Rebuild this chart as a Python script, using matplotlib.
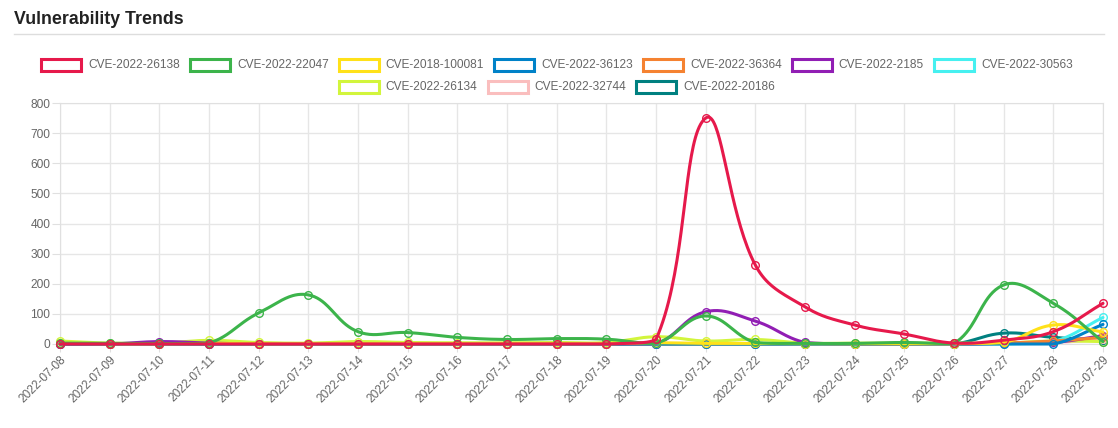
import numpy as np
import matplotlib.pyplot as plt
from matplotlib.patches import Rectangle
from matplotlib.lines import Line2D

plt.rcParams['font.family'] = ['Liberation Sans', 'DejaVu Sans']

dates = ['2022-07-08', '2022-07-09', '2022-07-10', '2022-07-11', '2022-07-12',
         '2022-07-13', '2022-07-14', '2022-07-15', '2022-07-16', '2022-07-17',
         '2022-07-18', '2022-07-19', '2022-07-20', '2022-07-21', '2022-07-22',
         '2022-07-23', '2022-07-24', '2022-07-25', '2022-07-26', '2022-07-27',
         '2022-07-28', '2022-07-29']

cve_26138 = [0, 0, 0, 0, 0, 0, 0, 0, 0, 0, 0, 0, 15, 750, 262, 123, 63, 33, 3, 13, 41, 135]
cve_22047 = [3, 2, 2, 3, 103, 163, 41, 38, 22, 15, 18, 16, 3, 93, 5, 2, 2, 5, 2, 196, 135, 8]
cve_100081 = [2, 1, 1, 2, 1, 1, 1, 1, 1, 1, 1, 1, 4, 2, 2, 1, 1, 1, 1, 5, 63, 40]
cve_36123 = [0, 0, 0, 0, 0, 0, 0, 0, 0, 0, 0, 0, 0, 0, 0, 0, 0, 0, 0, 0, 0, 65]
cve_36364 = [0, 0, 0, 0, 0, 0, 0, 0, 0, 0, 0, 0, 0, 0, 0, 0, 0, 0, 0, 3, 10, 22]
cve_2185 = [0, 0, 8, 3, 0, 0, 0, 0, 0, 0, 0, 0, 0, 107, 76, 5, 0, 0, 0, 2, 5, 28]
cve_30563 = [0, 0, 0, 0, 0, 0, 0, 0, 0, 0, 0, 0, 0, 0, 0, 0, 0, 0, 0, 0, 8, 88]
cve_26134 = [10, 3, 3, 12, 5, 3, 8, 5, 4, 4, 5, 5, 24, 10, 15, 3, 3, 3, 3, 3, 10, 8]
cve_32744 = [0, 0, 0, 0, 0, 0, 0, 0, 0, 0, 0, 0, 0, 0, 0, 0, 0, 0, 0, 2, 5, 15]
cve_20186 = [0, 0, 0, 0, 0, 0, 0, 0, 0, 0, 0, 0, 0, 0, 0, 0, 0, 0, 0, 36, 22, 12]

series = [
    ('CVE-2022-26138', cve_26138, '#e6194b'),
    ('CVE-2022-22047', cve_22047, '#3cb44b'),
    ('CVE-2018-100081', cve_100081, '#ffe119'),
    ('CVE-2022-36123', cve_36123, '#0082c8'),
    ('CVE-2022-36364', cve_36364, '#f58231'),
    ('CVE-2022-2185', cve_2185, '#911eb4'),
    ('CVE-2022-30563', cve_30563, '#46f0f0'),
    ('CVE-2022-26134', cve_26134, '#d2f53c'),
    ('CVE-2022-32744', cve_32744, '#fabebe'),
    ('CVE-2022-20186', cve_20186, '#008080'),
]

W, H = 1118, 428
fig = plt.figure(figsize=(W / 100, H / 100), dpi=100)
ax = fig.add_axes([60 / W, (H - 344) / H, (1103 - 60) / W, (344 - 103) / H])
ax.set_xlim(0, len(dates) - 1)
ax.set_ylim(0, 800)

# chart.js style spline (tension 0.4, control points capped to the chart area)
def spline(xs, ys, t=0.4):
    pts = ax.transData.transform(np.column_stack([xs, ys]))
    x0, y0, x1, y1 = ax.bbox.x0, ax.bbox.y0, ax.bbox.x1, ax.bbox.y1
    n = len(pts)
    cp_in, cp_out = [], []
    for i in range(n):
        prev = pts[i - 1] if i > 0 else pts[i]
        nxt = pts[i + 1] if i < n - 1 else pts[i]
        cur = pts[i]
        d01 = np.hypot(*(cur - prev))
        d12 = np.hypot(*(nxt - cur))
        tot = d01 + d12
        s01 = d01 / tot if tot else 0
        s12 = d12 / tot if tot else 0
        a = cur - t * s01 * (nxt - prev)
        b = cur + t * s12 * (nxt - prev)
        a = np.array([np.clip(a[0], x0, x1), np.clip(a[1], y0, y1)])
        b = np.array([np.clip(b[0], x0, x1), np.clip(b[1], y0, y1)])
        cp_in.append(a)
        cp_out.append(b)
    s = np.linspace(0, 1, 40)[:, None]
    out = [pts[:1]]
    for i in range(n - 1):
        p0, p1, p2, p3 = pts[i], cp_out[i], cp_in[i + 1], pts[i + 1]
        seg = ((1 - s) ** 3) * p0 + 3 * ((1 - s) ** 2) * s * p1 + 3 * (1 - s) * s ** 2 * p2 + s ** 3 * p3
        out.append(seg[1:])
    out = np.vstack(out)
    return ax.transData.inverted().transform(out)

x = np.arange(len(dates))
for k, (label, vals, color) in enumerate(series):
    z = 10 + len(series) - k
    curve = spline(x, vals)
    ax.plot(curve[:, 0], curve[:, 1], color=color, lw=2.2, zorder=z, clip_on=False,
            solid_capstyle='round')
    ax.plot(x, vals, 'o', ms=5.5, mfc='none', mec=color, mew=1.0, zorder=z, clip_on=False)

ax.set_xticks(x)
ax.set_xticklabels(dates, rotation=45, ha='right', rotation_mode='anchor')
ax.set_yticks(range(0, 801, 100))
ax.grid(True, color='#e6e6e6', lw=1)
ax.set_axisbelow(True)
for sp in ax.spines.values():
    sp.set_color('#e0e0e0')
ax.tick_params(colors='#e0e0e0', labelcolor='#666666', labelsize=8.6, length=6)
ax.tick_params(axis='x', pad=1)
ax.tick_params(axis='y', pad=1)

fig.text(14 / W, 1 - 19 / H, 'Vulnerability Trends', fontsize=12.8, weight='bold',
         color='#222222', va='center')
fig.add_artist(Line2D([14 / W, 1104 / W], [1 - 34 / H] * 2, color='#dddddd', lw=1))

# legend, two centred rows as in the original
renderer = fig.canvas.get_renderer()
rows = [series[:7], series[7:]]
row_y = [65, 87]
center = 557
for row, yc in zip(rows, row_y):
    widths = []
    texts = []
    for label, _, color in row:
        t = fig.text(0, 0, label, fontsize=8.6, color='#666666', va='center')
        texts.append(t)
        widths.append(40 + 7 + t.get_window_extent(renderer).width)
    total = sum(widths) + 10 * (len(row) - 1)
    xpos = center - total / 2
    for (label, _, color), t, w in zip(row, texts, widths):
        fig.add_artist(Rectangle((xpos / W, 1 - (yc + 6) / H), 40 / W, 12 / H,
                                 transform=fig.transFigure, facecolor='white',
                                 edgecolor=color, lw=2.2))
        t.set_position(((xpos + 47) / W, 1 - yc / H))
        xpos += w + 10

fig.savefig('out.png', dpi=100)
